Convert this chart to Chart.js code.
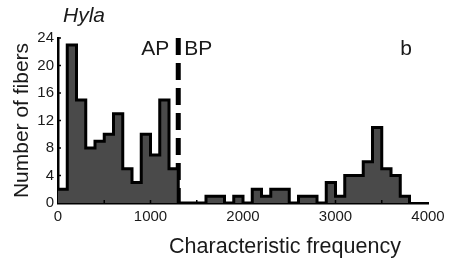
<!doctype html>
<html>

<head>
    <title>Hyla fibers</title>
    <script src="https://cdn.jsdelivr.net/npm/chart.js"></script>
    <style>
        body { margin: 0; background: #fff; }
    </style>
</head>

<body>
    <canvas id="myChart" width="452" height="262"></canvas>
    <script>
        // histogram, 100 Hz bins, value = number of fibers in bin starting at binStart
        const binStart = [0, 100, 200, 300, 400, 500, 600, 700, 800, 900,
            1000, 1100, 1200, 1300, 1400, 1500, 1600, 1700, 1800, 1900,
            2000, 2100, 2200, 2300, 2400, 2500, 2600, 2700, 2800, 2900,
            3000, 3100, 3200, 3300, 3400, 3500, 3600, 3700, 3800];
        const fibers = [2, 23, 15, 8, 9, 10, 13, 5, 3, 10,
            7, 15, 5, 0, 0, 0, 1, 1, 0, 1,
            0, 2, 1, 2, 2, 0, 1, 1, 0, 3,
            1, 4, 4, 6, 11, 5, 4, 1, 0];
        const apBpBorder = 1300;
        const xTicks = [0, 1000, 2000, 3000, 4000];
        const yTicks = [0, 4, 8, 12, 16, 20, 24];

        Chart.defaults.font.family = "'Liberation Sans', Arial, sans-serif";
        Chart.defaults.color = '#1a1a1a';

        const histPoints = binStart.map((x, i) => ({ x: x, y: fibers[i] }));

        // labels and little inward ticks
        const extras = {
            id: 'extras',
            afterDatasetsDraw(chart) {
                const c = chart.ctx;
                const xs = chart.scales.x, ys = chart.scales.y;
                c.save();
                c.strokeStyle = '#000';
                c.lineWidth = 1.5;
                for (let v = 500; v < 4000; v += 500) {
                    const px = xs.getPixelForValue(v);
                    c.beginPath();
                    c.moveTo(px, ys.bottom);
                    c.lineTo(px, ys.bottom - 3);
                    c.stroke();
                }
                yTicks.slice(1).forEach(v => {
                    const py = ys.getPixelForValue(v);
                    c.beginPath();
                    c.moveTo(xs.left, py);
                    c.lineTo(xs.left + 3, py);
                    c.stroke();
                });

                c.fillStyle = '#1a1a1a';
                c.textBaseline = 'alphabetic';
                c.font = "italic 21px 'Liberation Sans', Arial, sans-serif";
                c.textAlign = 'left';
                c.fillText('Hyla', 63, 22);

                c.font = "21px 'Liberation Sans', Arial, sans-serif";
                const lx = xs.getPixelForValue(apBpBorder);
                c.textAlign = 'right';
                c.fillText('AP', lx - 9, 55);
                c.textAlign = 'left';
                c.fillText('BP', lx + 6, 55);
                c.fillText('b', xs.getPixelForValue(3700), 55);

                c.font = "21.5px 'Liberation Sans', Arial, sans-serif";
                c.textAlign = 'center';
                c.fillText('Characteristic frequency', 285, 253);
                c.restore();
            }
        };

        const ctx = document.getElementById('myChart').getContext('2d');
        const myChart = new Chart(ctx, {
            type: 'line',
            data: {
                datasets: [{
                    label: 'fibers',
                    data: histPoints,
                    stepped: true,
                    borderColor: '#000',
                    borderWidth: 3,
                    borderJoinStyle: 'miter',
                    backgroundColor: '#4a4a4a',
                    fill: 'origin',
                    pointRadius: 0
                }, {
                    label: 'AP/BP',
                    data: [{ x: apBpBorder, y: 24 }, { x: apBpBorder, y: 0 }],
                    borderColor: '#000',
                    borderWidth: 5,
                    borderDash: [17, 8],
                    borderCapStyle: 'butt',
                    fill: false,
                    pointRadius: 0
                }]
            },
            options: {
                responsive: false,
                animation: false,
                layout: {
                    padding: { top: 38, right: 24, left: 0, bottom: 0 }
                },
                plugins: {
                    legend: { display: false },
                    tooltip: { enabled: false }
                },
                scales: {
                    x: {
                        type: 'linear',
                        min: 0,
                        max: 4000,
                        afterBuildTicks: s => { s.ticks = xTicks.map(v => ({ value: v })); },
                        ticks: {
                            font: { size: 15 },
                            padding: 5,
                            maxRotation: 0,
                            color: '#1a1a1a',
                            callback: v => String(v)
                        },
                        grid: { display: false, drawTicks: false },
                        border: { color: '#000', width: 2.5 },
                        afterFit: s => { s.height = 59; }
                    },
                    y: {
                        min: 0,
                        max: 24,
                        afterBuildTicks: s => { s.ticks = yTicks.map(v => ({ value: v })); },
                        ticks: { font: { size: 15 }, padding: 4, color: '#1a1a1a' },
                        grid: { display: false, drawTicks: false },
                        border: { color: '#000', width: 2.5 },
                        title: {
                            display: true,
                            text: 'Number of fibers',
                            font: { size: 21 },
                            color: '#1a1a1a',
                            padding: { top: 10, bottom: 0 }
                        },
                        afterFit: s => { s.width = 58; }
                    }
                }
            },
            plugins: [extras]
        });
    </script>
</body>

</html>
